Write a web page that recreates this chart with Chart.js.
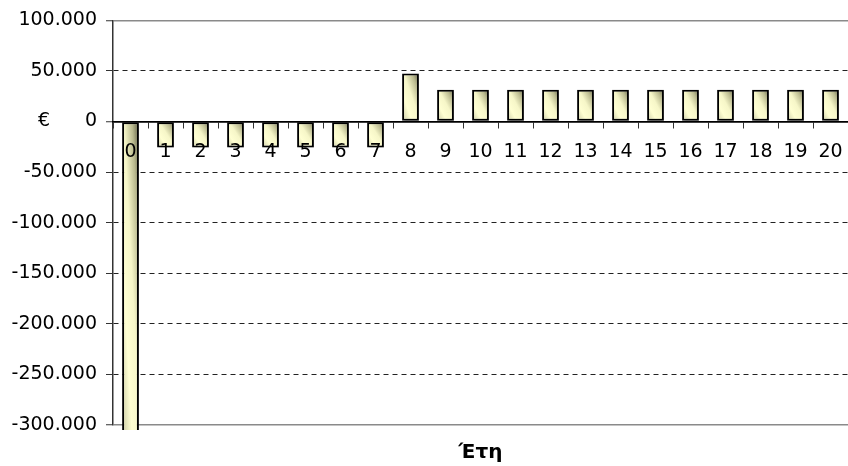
<!DOCTYPE html>
<html>
<head>
<meta charset="utf-8">
<script src="https://cdn.jsdelivr.net/npm/chart.js@4/dist/chart.umd.min.js"></script>
<style>
  html, body { margin: 0; padding: 0; background: #fff; }
  #wrap { width: 848px; height: 466px; }
</style>
</head>
<body>
<div id="wrap"><canvas id="c" width="848" height="466"></canvas></div>
<script>
// Cash flow per year (€)
const years = ['0','1','2','3','4','5','6','7','8','9','10','11','12','13','14','15','16','17','18','19','20'];
const cashFlow = [-310000, -25600, -25600, -25600, -25600, -25600, -25600, -25600,
                  47500, 31500, 31500, 31500, 31500, 31500, 31500, 31500, 31500, 31500, 31500, 31500, 31500];
const yTicks = [100000, 50000, 0, -50000, -100000, -150000, -200000, -250000, -300000];
const yTitle = '€';
const xTitle = 'Έτη';

const FONT = 'DejaVu Sans';
const BAR_PCT = 0.48;

function fmtThousands(v) {
  const s = Math.abs(v).toString().replace(/\B(?=(\d{3})+(?!\d))/g, '.');
  return (v < 0 ? '-' : '') + s;
}

// Diagonal shaded fill for each bar, laid out in the bar's own box
function barFill(ctx) {
  const chart = ctx.chart;
  const xs = chart.scales.x, ys = chart.scales.y;
  if (!xs || !ys || ctx.type !== 'data') return '#ffffcc';
  const cx = xs.getPixelForValue(ctx.dataIndex);
  const w = (xs.width / years.length) * BAR_PCT;
  const yv = ys.getPixelForValue(cashFlow[ctx.dataIndex]);
  const y0 = ys.getPixelForValue(0);
  if (![cx, w, yv, y0].every(Number.isFinite) || w <= 0) return '#ffffcc';
  const top = Math.min(yv, y0), bot = Math.max(yv, y0);
  const h = Math.max(bot - top, 1);
  const x0 = cx - w / 2;
  const L2 = h * h + w * w;
  const k = 2 * w * h / L2;
  const g = chart.ctx.createLinearGradient(x0, bot, x0 + h * k, bot - w * k);
  g.addColorStop(0, '#c9c9a2');
  g.addColorStop(0.3, '#ffffd2');
  g.addColorStop(0.55, '#f6f6c8');
  g.addColorStop(0.8, '#b9b98e');
  g.addColorStop(1, '#5e5e42');
  return g;
}

const barShadow = {
  id: 'barShadow',
  beforeDatasetDraw(chart) {
    const c = chart.ctx;
    c.save();
    c.shadowColor = 'rgba(0,0,0,0.3)';
    c.shadowOffsetX = 3;
    c.shadowOffsetY = 2;
    c.shadowBlur = 3;
  },
  afterDatasetDraw(chart) {
    chart.ctx.restore();
  }
};

// Horizontal value-axis caption level with zero
const sideCaption = {
  id: 'sideCaption',
  afterDraw(chart) {
    const c = chart.ctx;
    const y0 = chart.scales.y.getPixelForValue(0);
    c.save();
    c.font = '19px "' + FONT + '"';
    c.fillStyle = '#000';
    c.textAlign = 'center';
    c.textBaseline = 'middle';
    c.fillText(yTitle, 44, y0);
    c.restore();
  }
};

new Chart(document.getElementById('c'), {
  type: 'bar',
  data: {
    labels: years,
    datasets: [{
      data: cashFlow,
      backgroundColor: barFill,
      borderColor: '#000',
      borderWidth: 2,
      borderSkipped: false,
      barPercentage: BAR_PCT,
      categoryPercentage: 1,
      clip: { left: 5, top: 5, right: 5, bottom: 5 }
    }]
  },
  plugins: [barShadow, sideCaption],
  options: {
    responsive: false,
    devicePixelRatio: 1,
    animation: false,
    layout: { padding: { top: 20, right: 0, left: 0, bottom: 0 } },
    plugins: { legend: { display: false }, tooltip: { enabled: false } },
    scales: {
      x: {
        type: 'category',
        position: { y: 0 },
        offset: true,
        afterFit(s) { s.paddingLeft = 0; s.paddingRight = 0; },
        grid: {
          offset: true,
          drawOnChartArea: false,
          drawTicks: true,
          tickLength: 6,
          tickColor: '#333',
          tickWidth: 1,
          z: 1
        },
        border: { display: true, color: '#000', width: 1.5, z: 1 },
        ticks: {
          color: '#000',
          font: { family: FONT, size: 19 },
          padding: 13,
          maxRotation: 0,
          autoSkip: false,
          z: 1
        }
      },
      xb: {
        type: 'category',
        position: 'bottom',
        grid: { display: false },
        border: { display: false },
        ticks: { display: false },
        title: {
          display: true,
          text: xTitle,
          color: '#000',
          font: { family: FONT, size: 20, weight: 'bold' },
          padding: { top: 0, bottom: 1 }
        },
        afterFit(s) { s.height = 41; s.paddingLeft = 0; s.paddingRight = 0; }
      },
      y: {
        type: 'linear',
        min: -300000,
        max: 100000,
        afterBuildTicks(s) { s.ticks = yTicks.map(v => ({ value: v })); },
        afterFit(s) { s.width = 113; },
        grid: {
          color(ctx) {
            const v = ctx.tick && ctx.tick.value;
            if (v === 0) return '#000';
            if (v === 100000 || v === -300000) return '#8a8a8a';
            return '#222';
          },
          lineWidth(ctx) {
            const v = ctx.tick && ctx.tick.value;
            if (v === 0) return 1.5;
            if (v === 100000 || v === -300000) return 1.5;
            return 1;
          },
          tickLength: 7,
          tickColor: '#333',
          tickWidth: 1
        },
        border: {
          display: true,
          color: '#333',
          width: 1.5,
          dash(ctx) {
            const v = ctx.tick && ctx.tick.value;
            if (v === 0 || v === 100000 || v === -300000) return [];
            return [5, 4];
          }
        },
        ticks: {
          color: '#000',
          font: { family: FONT, size: 19 },
          padding: 9,
          callback: v => fmtThousands(v)
        }
      }
    }
  }
});
</script>
</body>
</html>
